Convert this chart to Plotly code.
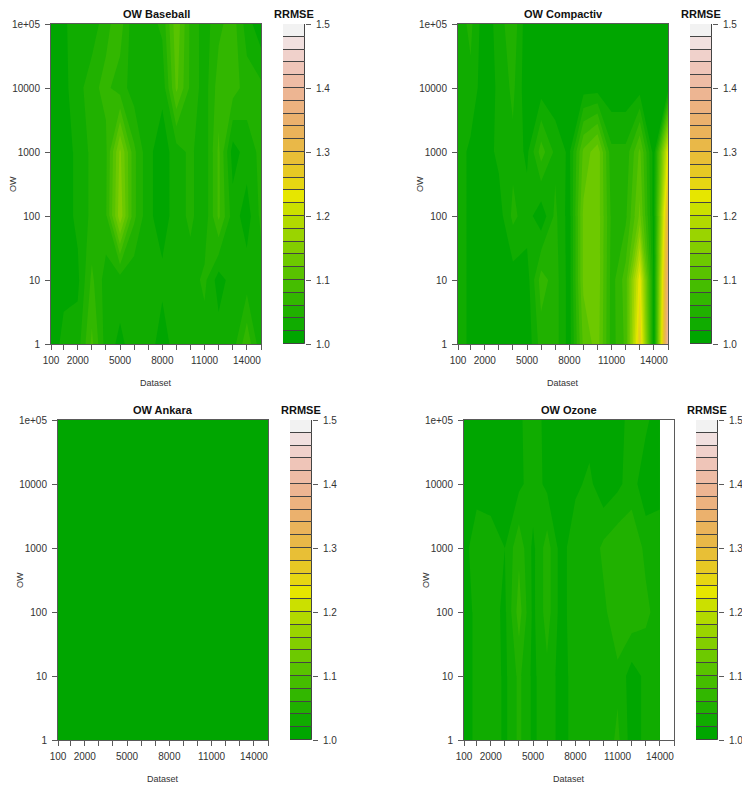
import colorsys

import plotly.graph_objects as go

# the browser keeps its default 8px body margin round the plot
PAGE_MARGIN = 8
WIDTH = 750 - PAGE_MARGIN
HEIGHT = 787 - PAGE_MARGIN

dataset_ticks = [100, 1000, 2000, 3000, 4000, 5000, 6000, 7000, 8000, 9000,
                 10000, 11000, 12000, 13000, 14000, 15000]
dataset_labels = ["100", "", "2000", "", "", "5000", "", "", "8000", "",
                  "", "11000", "", "", "14000", ""]
ow_positions = [0, 1, 2, 3, 4, 5]  # log10 of OW
ow_labels = ["1", "10", "100", "1000", "10000", "1e+05"]
rrmse_ticks = [1.0, 1.1, 1.2, 1.3, 1.4, 1.5]
rrmse_levels = [1.0 + 0.02 * i for i in range(25)]

# rows go from OW=1 up to OW=1e+05
baseball_z = [
    [1.01, 1.025, 1.03, 1.085, 1.03, 1.015, 1.03, 1.03, 1.01, 1.03, 1.03, 1.03, 1.03, 1.03, 1.075, 1.025],
    [1.01, 1.015, 1.015, 1.065, 1.03, 1.03, 1.025, 1.025, 1.025, 1.03, 1.03, 1.045, 1.01, 1.03, 1.03, 1.03],
    [1.015, 1.01, 1.025, 1.045, 1.055, 1.155, 1.065, 1.025, 1.01, 1.03, 1.045, 1.025, 1.085, 1.03, 1.01, 1.045],
    [1.015, 1.01, 1.025, 1.045, 1.055, 1.145, 1.065, 1.025, 1.01, 1.03, 1.045, 1.025, 1.085, 1.01, 1.03, 1.045],
    [1.01, 1.015, 1.03, 1.055, 1.065, 1.05, 1.03, 1.025, 1.025, 1.105, 1.055, 1.03, 1.07, 1.07, 1.05, 1.045],
    [1.015, 1.015, 1.035, 1.025, 1.055, 1.07, 1.025, 1.03, 1.045, 1.115, 1.055, 1.03, 1.055, 1.07, 1.03, 1.005],
]
compactiv_z = [
    [1.03, 1.015, 1.005, 1.005, 1.005, 1.005, 1.05, 1.05, 1.01, 1.105, 1.13, 1.05, 1.085, 1.27, 1.005, 1.41],
    [1.03, 1.015, 1.005, 1.005, 1.01, 1.01, 1.07, 1.05, 1.01, 1.125, 1.135, 1.05, 1.09, 1.235, 1.01, 1.37],
    [1.03, 1.015, 1.005, 1.01, 1.045, 1.03, 1.005, 1.045, 1.01, 1.125, 1.135, 1.055, 1.055, 1.125, 1.01, 1.31],
    [1.03, 1.015, 1.01, 1.025, 1.035, 1.015, 1.07, 1.035, 1.015, 1.105, 1.135, 1.045, 1.045, 1.105, 1.01, 1.23],
    [1.03, 1.035, 1.005, 1.025, 1.045, 1.005, 1.01, 1.005, 1.005, 1.01, 1.01, 1.005, 1.005, 1.01, 1.005, 1.01],
    [1.03, 1.045, 1.005, 1.03, 1.055, 1.005, 1.005, 1.005, 1.005, 1.005, 1.005, 1.005, 1.005, 1.005, 1.005, 1.005],
]
ankara_z = [
    [1.01] * 16,
    [1.01] * 16,
    [1.01] * 16,
    [1.01] * 16,
    [1.01] * 16,
    [1.01] * 16,
]
ozone_z = [
    [1.01, 1.025, 1.035, 1.015, 1.045, 1.015, 1.035, 1.01, 1.03, 1.025, 1.025, 1.045, 1.01, 1.025, 1.025],
    [1.01, 1.025, 1.035, 1.015, 1.045, 1.015, 1.035, 1.01, 1.03, 1.025, 1.025, 1.035, 1.01, 1.025, 1.025],
    [1.01, 1.025, 1.03, 1.015, 1.07, 1.015, 1.05, 1.01, 1.035, 1.025, 1.035, 1.055, 1.055, 1.045, 1.03],
    [1.01, 1.035, 1.03, 1.02, 1.055, 1.015, 1.05, 1.01, 1.035, 1.025, 1.045, 1.055, 1.055, 1.035, 1.035],
    [1.01, 1.01, 1.01, 1.01, 1.015, 1.03, 1.015, 1.01, 1.015, 1.025, 1.005, 1.015, 1.03, 1.005, 1.01],
    [1.01, 1.01, 1.01, 1.01, 1.015, 1.035, 1.01, 1.01, 1.01, 1.01, 1.005, 1.015, 1.025, 1.025, 1.005],
]
ozone_ticks = dataset_ticks[:15]

FONT = "Liberation Sans"
TEXT = "#333333"
AXIS = "#5a5a5a"


def terrain_colors(n):
    # same ramp as terrain.colors() in R
    k = n // 2
    out = []
    for i in range(k):
        t = i / (k - 1)
        out.append(colorsys.hsv_to_rgb((4 - 2 * t) / 12, 1.0, 0.65 + 0.25 * t))
    for i in range(1, n - k + 1):
        t = i / (n - k)
        out.append(colorsys.hsv_to_rgb((2 - 2 * t) / 12, 1.0 - t, 0.9 + 0.05 * t))
    return ["rgb(%d,%d,%d)" % tuple(round(c * 255) for c in rgb) for rgb in out]


colors = terrain_colors(25)

# stepped colorscale: plotly spreads a filled contour's scale over 26 bands
scale = [[0, colors[0]]]
for i in range(1, 25):
    edge = (i + 0.5) / 26
    scale.append([edge, colors[i - 1]])
    scale.append([edge, colors[i]])
scale.append([1, colors[24]])

panels = [
    dict(title="OW Baseball", z=baseball_z, xs=dataset_ticks, left=51, right=261, top=24, bottom=344, cleft=283, cright=305),
    dict(title="OW Compactiv", z=compactiv_z, xs=dataset_ticks, left=458, right=668, top=24, bottom=344, cleft=690, cright=712),
    dict(title="OW Ankara", z=ankara_z, xs=dataset_ticks, left=58, right=268, top=420, bottom=740, cleft=290, cright=312),
    dict(title="OW Ozone", z=ozone_z, xs=ozone_ticks, left=464, right=674, top=420, bottom=740, cleft=696, cright=718),
]

fig = go.Figure()
layout = {}
notes = []


def px_x(v):
    return (v - PAGE_MARGIN) / WIDTH


def px_y(v):
    return 1 - (v - PAGE_MARGIN) / HEIGHT


def note(text, x, y, size, color=TEXT, bold=False, angle=0):
    notes.append(dict(
        text=f"<b>{text}</b>" if bold else text,
        x=px_x(x), y=px_y(y), xref="paper", yref="paper",
        xanchor="center", yanchor="middle", showarrow=False, textangle=angle,
        font=dict(family=FONT, size=size, color=color),
    ))


for i, p in enumerate(panels):
    n = 2 * i + 1
    xa, ya = f"x{n}", f"y{n}"
    cx, cy = f"x{n + 1}", f"y{n + 1}"

    fig.add_trace(go.Contour(
        x=p["xs"], y=ow_positions, z=p["z"],
        xaxis=xa, yaxis=ya,
        zmin=1.0, zmax=1.5,
        autocontour=False,
        contours=dict(start=1.0, end=1.5, size=0.02, coloring="fill", showlines=False),
        line=dict(width=0, smoothing=0),
        colorscale=scale,
        showscale=False,
    ))
    fig.add_trace(go.Bar(
        x=[0] * len(rrmse_levels), y=[0.02] * len(rrmse_levels), base=rrmse_levels,
        width=1,
        xaxis=cx, yaxis=cy,
        marker=dict(color=colors, line=dict(color="#444444", width=1)),
        showlegend=False,
    ))

    tick_font = dict(family=FONT, size=10, color=TEXT)
    layout[f"xaxis{n}"] = dict(
        domain=[px_x(p["left"]), px_x(p["right"])], anchor=ya, range=[100, 15000],
        tickmode="array", tickvals=dataset_ticks, ticktext=dataset_labels,
        ticks="outside", ticklen=5, tickcolor=AXIS, tickangle=0, tickfont=tick_font,
        ticklabelstandoff=2, automargin=False,
        showline=True, linecolor=AXIS, linewidth=1, mirror=True, showgrid=False, zeroline=False,
    )
    layout[f"yaxis{n}"] = dict(
        domain=[px_y(p["bottom"]), px_y(p["top"])], anchor=xa, range=[0, 5],
        tickmode="array", tickvals=ow_positions, ticktext=ow_labels,
        ticks="outside", ticklen=5, tickcolor=AXIS, tickfont=tick_font,
        ticklabelstandoff=3, automargin=False,
        showline=True, linecolor=AXIS, linewidth=1, mirror=True, showgrid=False, zeroline=False,
    )
    layout[f"xaxis{n + 1}"] = dict(
        domain=[px_x(p["cleft"]), px_x(p["cright"])], anchor=cy, range=[-0.5, 0.5],
        visible=False, automargin=False,
    )
    layout[f"yaxis{n + 1}"] = dict(
        domain=[px_y(p["bottom"]), px_y(p["top"])], anchor=cx, side="right", range=[1.0, 1.5],
        tickmode="array", tickvals=rrmse_ticks, ticktext=[f"{v:.1f}" for v in rrmse_ticks],
        ticks="outside", ticklen=5, tickcolor=AXIS, tickfont=tick_font,
        ticklabelstandoff=3, automargin=False,
        showline=False, showgrid=False, zeroline=False,
    )

    mid = (p["left"] + p["right"]) / 2
    note(p["title"], mid, p["top"] - 10, 11, color="#111111", bold=True)
    note("Dataset", mid, p["bottom"] + 39, 9)
    note("OW", p["left"] - 38, (p["top"] + p["bottom"]) / 2, 9, angle=-90)
    note("RRMSE", (p["cleft"] + p["cright"]) / 2, p["top"] - 10, 11, color="#111111", bold=True)

fig.update_layout(
    width=WIDTH, height=HEIGHT,
    margin=dict(l=0, r=0, t=0, b=0, autoexpand=False),
    paper_bgcolor="white", plot_bgcolor="white",
    barmode="overlay", bargap=0,
    showlegend=False,
    annotations=notes,
    **layout,
)

fig.write_html("out.html")
